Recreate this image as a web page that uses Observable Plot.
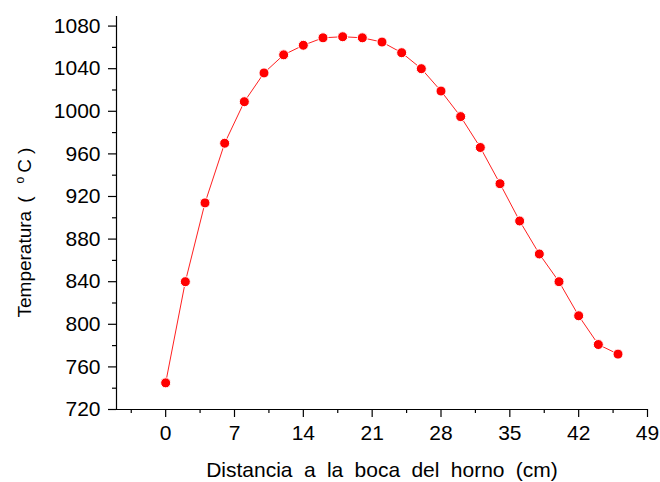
<!DOCTYPE html>
<html>
<head>
<meta charset="utf-8">
<script src="https://cdn.jsdelivr.net/npm/d3@7"></script>
<script src="https://cdn.jsdelivr.net/npm/@observablehq/plot@0.6"></script>
<style>
  html, body { margin: 0; padding: 0; background: #fff; }
  #chart { width: 660px; height: 482px; }
</style>
</head>
<body>
<div id="chart"></div>
<script>
// Distance from the kiln mouth (cm)
const distance = [0, 2, 4, 6, 8, 10, 12, 14, 16, 18, 20, 22, 24, 26, 28, 30, 32, 34, 36, 38, 40, 42, 44, 46];
// Temperature (°C)
const temperature = [745, 840, 914, 970, 1009, 1036, 1053, 1062, 1069, 1070, 1069, 1065, 1055, 1040, 1019, 995, 966, 932, 897, 866, 840, 808, 781, 772];

const xMajorTicks = [0, 7, 14, 21, 28, 35, 42, 49];
const xMinorTicks = [-3.5, 3.5, 10.5, 17.5, 24.5, 31.5, 38.5, 45.5];
const yMajorTicks = [720, 760, 800, 840, 880, 920, 960, 1000, 1040, 1080];
const yMinorTicks = [740, 780, 820, 860, 900, 940, 980, 1020, 1060];

const xLabel = "Distancia a la boca del horno (cm)";
const yLabel = "Temperatura (°C)";

const data = distance.map((d, i) => ({x: d, y: temperature[i]}));

const font = "'Liberation Sans', Arial, sans-serif";

const chart = Plot.plot({
  width: 660,
  height: 482,
  marginLeft: 116,
  marginRight: 13,
  marginTop: 16,
  marginBottom: 73,
  style: {fontFamily: font, fontSize: "21px", color: "#000", background: "#fff"},
  x: {domain: [-5, 49]},
  y: {domain: [720, 1089]},
  marks: [
    Plot.axisX({ticks: xMinorTicks, tickSize: 4, text: null, label: null, strokeWidth: 1.2}),
    Plot.axisX({ticks: xMajorTicks, tickSize: 8, tickPadding: 8, fontSize: 21, tickFormat: "d", label: null, strokeWidth: 1.2}),
    Plot.axisY({ticks: yMinorTicks, tickSize: 4, text: null, label: null, strokeWidth: 1.2}),
    Plot.axisY({ticks: yMajorTicks, tickSize: 8, tickPadding: 8, fontSize: 21, tickFormat: "d", label: null, strokeWidth: 1.2}),
    Plot.ruleX([-5], {stroke: "#000", strokeWidth: 1.2}),
    Plot.ruleY([720], {stroke: "#000", strokeWidth: 1.2}),
    Plot.line(data, {x: "x", y: "y", stroke: "#ff2020", strokeWidth: 1}),
    Plot.dot(data, {x: "x", y: "y", r: 5, fill: "#ff0000", stroke: "#fff", strokeWidth: 1}),
    Plot.text([xLabel], {text: d => d, frameAnchor: "bottom", dy: 61, lineAnchor: "middle", fontSize: 21, fill: "#000",
      fontFamily: font}),
    Plot.text([yLabel], {text: d => d, frameAnchor: "left", textAnchor: "start", dx: -92, dy: 104.5, rotate: -90,
      lineAnchor: "middle", fontSize: 19, fill: "#000", fontFamily: font})
  ]
});

const NS = "http://www.w3.org/2000/svg";
chart.querySelectorAll("text").forEach(t => {
  if (t.textContent === xLabel) t.setAttribute("word-spacing", "5.5px");
  if (t.textContent === yLabel) {
    // typeset "Temperatura (°C)" with a superscript o, like the reference
    t.textContent = "";
    const parts = [
      {s: "Temperatura"},
      {s: "(", dx: 8},
      {s: "o", dx: 13, dy: -7, size: 12},
      {s: "C", dx: 4, dy: 7},
      {s: ")", dx: 5}
    ];
    parts.forEach(p => {
      const ts = document.createElementNS(NS, "tspan");
      ts.textContent = p.s;
      if (p.dx) ts.setAttribute("dx", p.dx);
      if (p.dy) ts.setAttribute("dy", p.dy);
      if (p.size) ts.setAttribute("font-size", p.size);
      t.appendChild(ts);
    });
  }
});
document.getElementById("chart").appendChild(chart);
</script>
</body>
</html>
